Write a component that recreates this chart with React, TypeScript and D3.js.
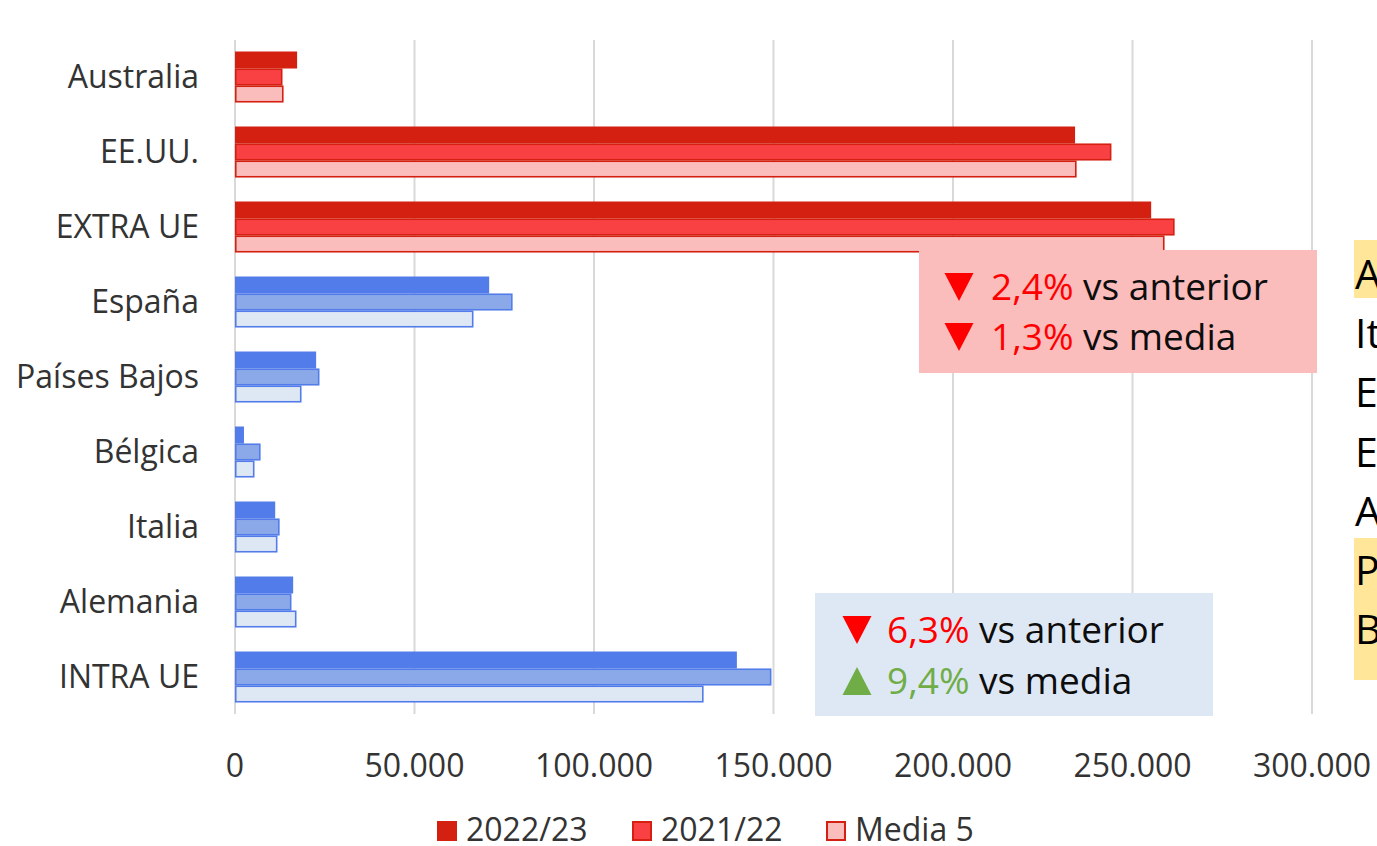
import React from "react";
import * as d3 from "d3";

const categories = ["Australia", "EE.UU.", "EXTRA UE", "España", "Países Bajos", "Bélgica", "Italia", "Alemania", "INTRA UE"];
const groupOf = ["extra", "extra", "extra", "intra", "intra", "intra", "intra", "intra", "intra"];
const series = ["2022/23", "2021/22", "Media 5"];
const v2022 = [17300, 234000, 255200, 70800, 22600, 2500, 11200, 16200, 139800];
const v2021 = [12800, 243700, 261300, 76900, 23100, 6700, 12000, 15300, 149000];
const vMedia = [13100, 234000, 258500, 66000, 18100, 5000, 11400, 16700, 130100];
const xTicks = [0, 50000, 100000, 150000, 200000, 250000, 300000];
const sideLetters = ["A", "It", "E", "E", "A", "P", "B"];

const W = 1377, H = 846;
const FONT = "'Open Sans', sans-serif";

const palette: Record<string, { fill: string[]; stroke: string }> = {
  extra: { fill: ["#D32010", "#F94144", "#FBBCBC"], stroke: "#D32010" },
  intra: { fill: ["#527CE9", "#8BA9E8", "#DEE8F5"], stroke: "#527CE9" },
};

const fmt = (v: number) => d3.format(",")(v).replace(/,/g, ".");

export default function App() {
  const x = d3.scaleLinear().domain([0, 300000]).range([235, 1312]);
  const y = d3.scaleBand<string>().domain(categories).range([39.5, 714.5]).paddingInner(0.32).paddingOuter(0.16);
  const sub = d3.scaleBand<string>().domain(series).range([0, y.bandwidth()]);
  const values = [v2022, v2021, vMedia];

  const tri = (cx: number, top: number, down: boolean) => {
    const w = 29, h = 28;
    return down
      ? `M${cx - w / 2},${top}L${cx + w / 2},${top}L${cx},${top + h}Z`
      : `M${cx - w / 2},${top + h}L${cx + w / 2},${top + h}L${cx},${top}Z`;
  };

  return (
    <svg width={W} height={H} style={{ position: "absolute", left: 0, top: 0, background: "#fff" }} fontFamily={FONT}>
      {xTicks.map((t) => (
        <line key={t} x1={x(t)} x2={x(t)} y1={40} y2={714} stroke="#D9D9D9" strokeWidth={2} />
      ))}
      {categories.map((c, i) => {
        const pal = palette[groupOf[i]];
        return (
          <g key={c}>
            {series.map((s, k) => {
              const yy = (y(c) as number) + (sub(s) as number);
              const hh = sub.bandwidth();
              return k === 0 ? (
                <rect key={s} x={x(0)} y={yy} width={x(values[k][i]) - x(0)} height={hh} fill={pal.fill[k]} />
              ) : (
                <rect key={s} x={x(0) + 0.75} y={yy + 0.75} width={x(values[k][i]) - x(0)} height={hh - 1.5} fill={pal.fill[k]} stroke={pal.stroke} strokeWidth={1.6} />
              );
            })}
            <text x={199} y={(y(c) as number) + y.bandwidth() / 2 + 11} textAnchor="end" fontSize={32} fill="#333">{c}</text>
          </g>
        );
      })}
      {xTicks.map((t) => (
        <text key={"l" + t} x={x(t)} y={777} textAnchor="middle" fontSize={32} fill="#333">{fmt(t)}</text>
      ))}

      {/* annotation boxes */}
      <rect x={919} y={250} width={398} height={123} fill="#FBBCBC" />
      <path d={tri(959, 273, true)} fill="#FF0000" />
      <text x={991} y={300} fontSize={37}><tspan fill="#FF0000">2,4%</tspan><tspan fill="#0D0D0D"> vs anterior</tspan></text>
      <path d={tri(959, 323, true)} fill="#FF0000" />
      <text x={991} y={350} fontSize={37}><tspan fill="#FF0000">1,3%</tspan><tspan fill="#0D0D0D"> vs media</tspan></text>

      <rect x={815} y={593} width={398} height={123} fill="#DEE8F5" />
      <path d={tri(857, 616, true)} fill="#FF0000" />
      <text x={887} y={643} fontSize={37}><tspan fill="#FF0000">6,3%</tspan><tspan fill="#0D0D0D"> vs anterior</tspan></text>
      <path d={tri(857, 667, false)} fill="#70AD47" />
      <text x={887} y={694} fontSize={37}><tspan fill="#70AD47">9,4%</tspan><tspan fill="#0D0D0D"> vs media</tspan></text>

      {/* right side cut-off text */}
      <rect x={1354} y={240} width={30} height={58} fill="#FFE699" />
      <rect x={1354} y={538} width={30} height={142} fill="#FFE699" />
      {sideLetters.map((t, i) => (
        <text key={"s" + i} x={1355} y={289 + i * 59.2} fontSize={41} fill="#000">{t}</text>
      ))}

      {/* legend */}
      {series.map((s, k) => {
        const lx = [437, 632, 826][k];
        const pal = palette.extra;
        return (
          <g key={"lg" + s}>
            {k === 0 ? (
              <rect x={lx} y={821} width={20} height={20} fill={pal.fill[k]} />
            ) : (
              <rect x={lx + 1} y={822} width={18} height={18} fill={pal.fill[k]} stroke={pal.stroke} strokeWidth={2} />
            )}
            <text x={lx + 29} y={841} fontSize={32} fill="#333">{s}</text>
          </g>
        );
      })}
    </svg>
  );
}
